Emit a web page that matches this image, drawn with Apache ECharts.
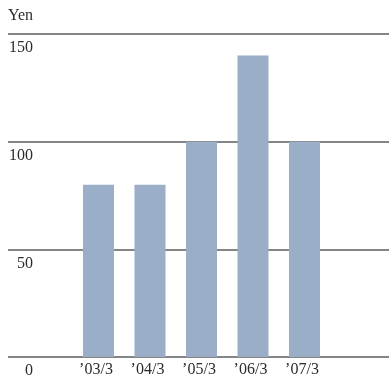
<!DOCTYPE html>
<html>
<head>
<meta charset="utf-8">
<script src="https://cdn.jsdelivr.net/npm/echarts@6/dist/echarts.min.js"></script>
<style>
  html, body { margin: 0; padding: 0; background: #fff; }
  #chart { width: 389px; height: 382px; }
</style>
</head>
<body>
<div id="chart"></div>
<script>
// Fiscal year-end labels and dividend per share (yen)
const categories = ["\u201903/3", "\u201904/3", "\u201905/3", "\u201906/3", "\u201907/3"];
const dividends = [80, 80, 100, 140, 100];
const yTicks = [0, 50, 100, 150];

const textColor = '#2b2b2b';
const fontFamily = '"Liberation Serif", "DejaVu Serif", serif';
const ruleColor = '#858585';

const chart = echarts.init(document.getElementById('chart'), null, { renderer: 'canvas' });

chart.setOption({
  animation: false,
  backgroundColor: '#ffffff',
  grid: [
    // full-width frame holding the horizontal rules and value labels
    { left: 8, right: 0, top: 34, bottom: 25, containLabel: false },
    // narrower band for the bars
    { left: 72.75, width: 257.5, top: 34, bottom: 25, containLabel: false }
  ],
  xAxis: [
    { type: 'value', gridIndex: 0, show: false, min: 0, max: 1 },
    {
      type: 'category',
      gridIndex: 1,
      data: categories,
      axisLine: { show: false },
      axisTick: { show: false },
      axisLabel: {
        color: textColor,
        fontFamily: fontFamily,
        fontSize: 16,
        margin: 5,
        padding: [0, 5, 0, 0]
      }
    }
  ],
  yAxis: [
    {
      type: 'value',
      gridIndex: 0,
      min: yTicks[0],
      max: yTicks[yTicks.length - 1],
      interval: 50,
      name: 'Yen',
      nameLocation: 'end',
      nameGap: 10,
      nameTextStyle: {
        color: textColor,
        fontFamily: fontFamily,
        fontSize: 16,
        align: 'left',
        verticalAlign: 'bottom'
      },
      axisLine: { show: false },
      axisTick: { show: false },
      axisLabel: {
        inside: true,
        margin: 25,
        align: 'right',
        verticalAlign: 'top',
        padding: [6, 0, 0, 0],
        color: textColor,
        fontFamily: fontFamily,
        fontSize: 16
      },
      splitLine: { show: true, lineStyle: { color: ruleColor, width: 2 } }
    },
    {
      type: 'value',
      gridIndex: 1,
      min: yTicks[0],
      max: yTicks[yTicks.length - 1],
      interval: 50,
      show: false,
      splitLine: { show: false }
    }
  ],
  series: [
    {
      type: 'bar',
      xAxisIndex: 1,
      yAxisIndex: 1,
      data: dividends,
      barWidth: 31,
      itemStyle: { color: '#9aaec7' },
      z: 1
    }
  ]
});
</script>
</body>
</html>
